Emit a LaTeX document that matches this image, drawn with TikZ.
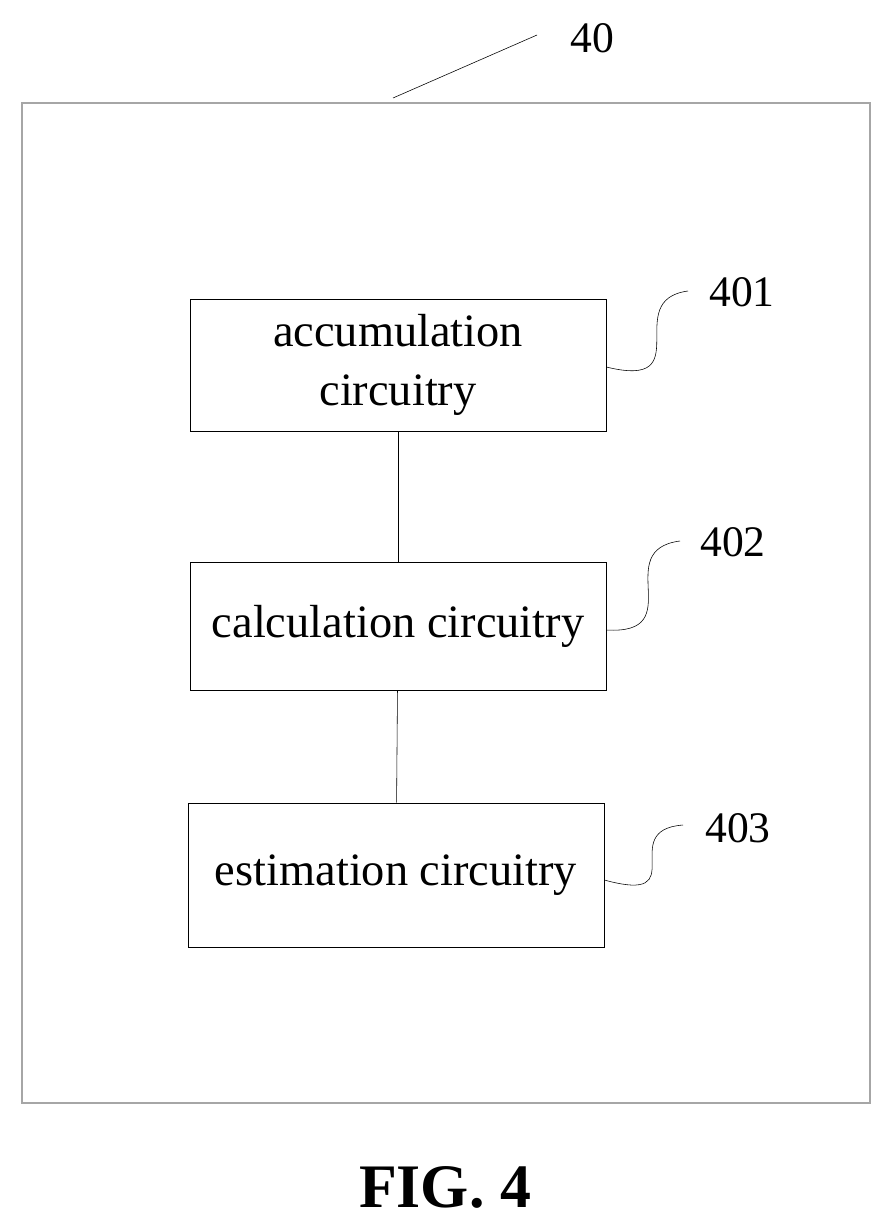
\documentclass[tikz,border=0pt]{standalone}
\usepackage{fontspec}
\setmainfont{Liberation Serif}
\usetikzlibrary{positioning}
\tikzset{
  block/.style={draw, thin, minimum width=10.4cm, align=center, font=\fontsize{33}{42}\selectfont},
  tag/.style={font=\fontsize{31}{36}\selectfont},
}
\begin{document}
\begin{tikzpicture}[x=0.025cm, y=-0.025cm]
      \useasboundingbox (0,0) rectangle (890,1231);
      \draw[gray!70, line width=1.2pt] (22,103) rectangle (870,1103);
      \coordinate (top) at (393,98);
      \coordinate (topend) at (537,35);
      \draw (top) -- (topend);
      \node[tag] (n40) at (592,38) {40};

      \node[block, minimum height=3.3cm] (acc) at (398,365) {accumulation\\circuitry};
      \node[block, minimum height=3.2cm] (calc) at (398,626) {calculation circuitry};
      \node[block, minimum height=3.6cm] (est) at (396,875) {estimation circuitry};
      \draw (acc) -- (calc);
      \draw (calc) -- (est);

      \node[tag] (n401) at (742,292) {401};
      \node[tag] (n402) at (733,542) {402};
      \node[tag] (n403) at (738,828) {403};
      \coordinate (s1) at (688,291);
      \coordinate (s2) at (680,541);
      \coordinate (s3) at (683,825);
      \draw (acc.east |- 0,367) .. controls (700,390) and (620,300) .. (s1);
      \draw (calc.east |- 0,630) .. controls (690,635) and (610,550) .. (s2);
      \draw (est.east |- 0,880) .. controls (695,905) and (615,830) .. (s3);

      \node[font=\fontsize{44}{48}\selectfont\bfseries] (fig) at (445,1187) {FIG. 4};
\end{tikzpicture}
\end{document}
